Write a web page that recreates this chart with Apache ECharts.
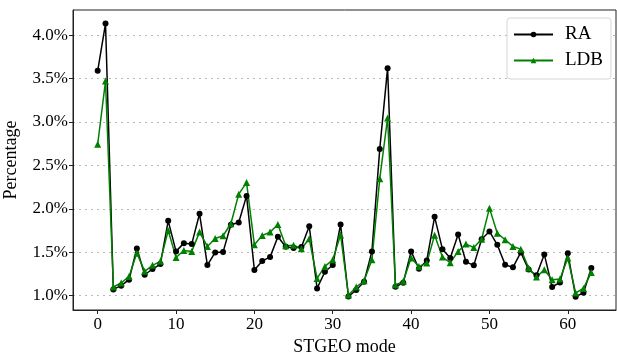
<!DOCTYPE html>
<html>
<head>
<meta charset="utf-8">
<script src="https://cdn.jsdelivr.net/npm/echarts@6/dist/echarts.min.js"></script>
<style>
  html, body { margin: 0; padding: 0; background: #fff; }
  #chart { width: 617px; height: 354px; }
</style>
</head>
<body>
<div id="chart"></div>
<script>
// STGEO mode index
var modes = [0, 1, 2, 3, 4, 5, 6, 7, 8, 9, 10, 11, 12, 13, 14, 15, 16, 17, 18, 19,
  20, 21, 22, 23, 24, 25, 26, 27, 28, 29, 30, 31, 32, 33, 34, 35, 36, 37, 38, 39,
  40, 41, 42, 43, 44, 45, 46, 47, 48, 49, 50, 51, 52, 53, 54, 55, 56, 57, 58, 59,
  60, 61, 62, 63];

// percentages
var ra = [3.59, 4.134, 1.072, 1.115, 1.184, 1.544, 1.241, 1.307, 1.364, 1.862,
  1.51, 1.605, 1.594, 1.943, 1.353, 1.498, 1.502, 1.816, 1.843, 2.149,
  1.295, 1.40, 1.444, 1.678, 1.563, 1.548, 1.56, 1.80, 1.084, 1.276,
  1.353, 1.82, 0.99, 1.065, 1.161, 1.51, 2.69, 3.62, 1.103, 1.149,
  1.51, 1.31, 1.406, 1.908, 1.536, 1.433, 1.705, 1.39, 1.349, 1.65,
  1.74, 1.586, 1.356, 1.326, 1.498, 1.30, 1.234, 1.475, 1.10, 1.153,
  1.49, 0.989, 1.034, 1.318];

var ldb = [2.744, 3.471, 1.10, 1.146, 1.222, 1.49, 1.28, 1.349, 1.395, 1.75,
  1.44, 1.521, 1.51, 1.732, 1.567, 1.659, 1.69, 1.828, 2.169, 2.302,
  1.586, 1.693, 1.732, 1.82, 1.575, 1.582, 1.54, 1.655, 1.199, 1.337,
  1.414, 1.70, 1.008, 1.10, 1.172, 1.414, 2.348, 3.046, 1.123, 1.165,
  1.433, 1.337, 1.375, 1.697, 1.444, 1.379, 1.51, 1.594, 1.555, 1.65,
  2.008, 1.72, 1.644, 1.567, 1.536, 1.318, 1.214, 1.299, 1.184, 1.192,
  1.433, 1.031, 1.084, 1.268];

var xTicks = [0, 10, 20, 30, 40, 50, 60];
var yTicks = [1.0, 1.5, 2.0, 2.5, 3.0, 3.5, 4.0];

function pairs(vals) {
  return modes.map(function (m, i) { return [m, vals[i]]; });
}

var font = 'Liberation Serif';
var chart = echarts.init(document.getElementById('chart'));

chart.setOption({
  animation: false,
  textStyle: { fontFamily: font },
  grid: {
    left: 73, right: 1, top: 10, bottom: 44,
    outerBoundsMode: 'none',
    containLabel: false,
    show: true, borderColor: '#222', borderWidth: 1
  },
  legend: {
    orient: 'vertical',
    left: 507, top: 18,
    padding: [7, 8, 9, 6],
    itemWidth: 39, itemHeight: 7,
    itemGap: 7,
    backgroundColor: '#fff',
    borderColor: '#d6d6d6', borderWidth: 1, borderRadius: 3,
    textStyle: { fontFamily: font, fontSize: 19, color: '#000', padding: [0, 0, 0, 7] },
    data: ['RA', 'LDB']
  },
  xAxis: {
    type: 'value',
    min: -3.15, max: 66.15,
    name: 'STGEO mode',
    nameLocation: 'middle',
    nameGap: 26,
    nameTextStyle: { fontFamily: font, fontSize: 18, color: '#000' },
    axisLine: { onZero: false, lineStyle: { color: '#222', width: 1 } },
    axisTick: { show: true, length: 4, customValues: xTicks, lineStyle: { color: '#222' } },
    axisLabel: { customValues: xTicks, fontSize: 17, color: '#000', margin: 6 },
    splitLine: { show: false }
  },
  yAxis: {
    type: 'value',
    min: 0.835, max: 4.29,
    name: 'Percentage',
    nameLocation: 'middle',
    nameGap: 53,
    nameTextStyle: { fontFamily: font, fontSize: 18, color: '#000' },
    axisLine: { show: true, onZero: false, lineStyle: { color: '#222', width: 1 } },
    axisTick: { show: true, length: 4, customValues: yTicks, lineStyle: { color: '#222' } },
    axisLabel: {
      customValues: yTicks, fontSize: 17, color: '#000', margin: 5,
      formatter: function (v) { return v.toFixed(1) + '%'; }
    },
    splitLine: {
      show: true,
      lineStyle: { color: '#b8b8b8', type: [2, 4], width: 1 }
    }
  },
  series: [
    {
      name: 'RA',
      type: 'line',
      data: pairs(ra),
      color: '#000',
      symbol: 'circle',
      symbolSize: 6,
      showAllSymbol: true,
      lineStyle: { width: 1.5, color: '#000' },
      itemStyle: { color: '#000' }
    },
    {
      name: 'LDB',
      type: 'line',
      data: pairs(ldb),
      color: '#008000',
      symbol: 'triangle',
      symbolSize: 7,
      showAllSymbol: true,
      lineStyle: { width: 1.5, color: '#008000' },
      itemStyle: { color: '#008000' }
    }
  ]
});
</script>
</body>
</html>
